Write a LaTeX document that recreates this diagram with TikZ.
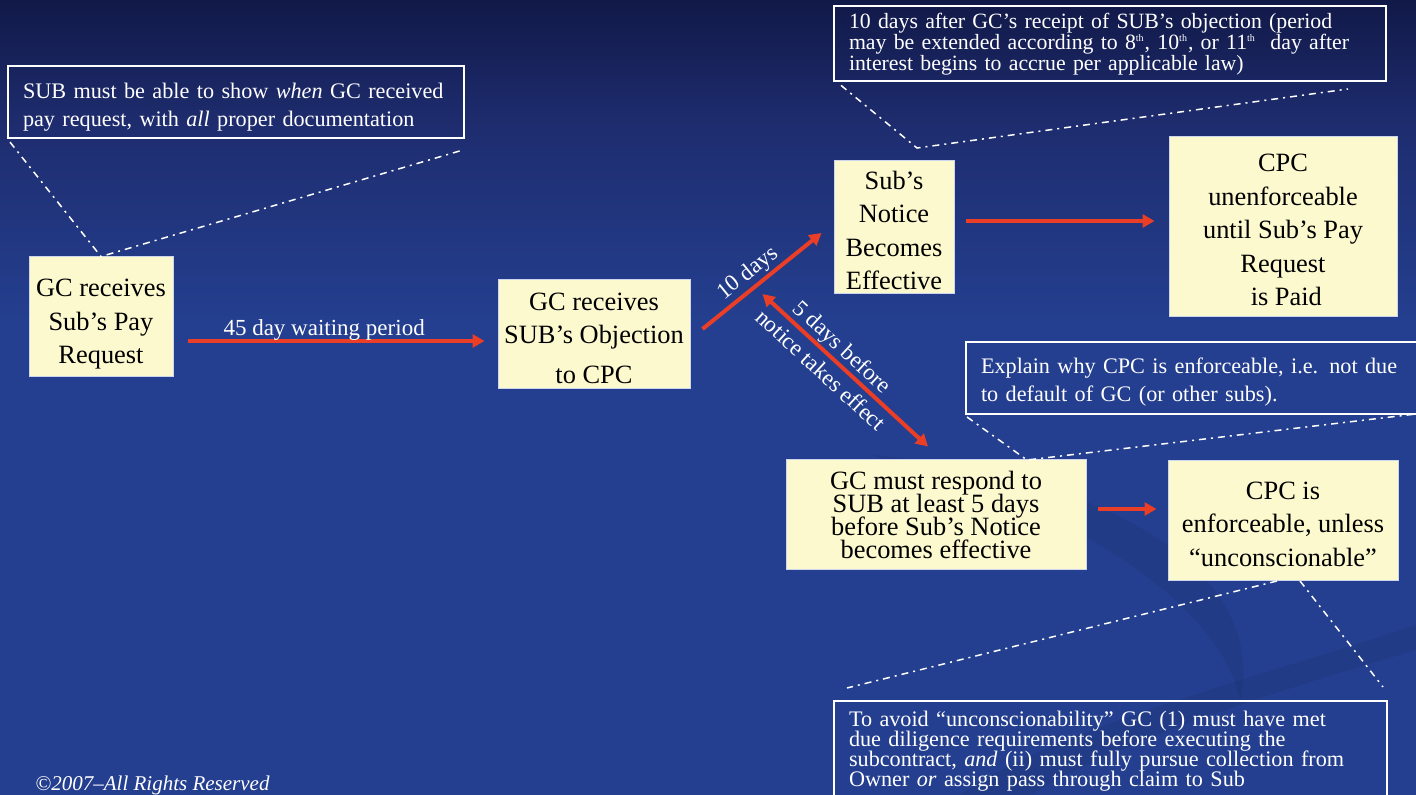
\documentclass[tikz,border=0pt]{standalone}
\usepackage{fontspec}
\setmainfont{Liberation Serif}
\usetikzlibrary{arrows.meta, calc}

\definecolor{bgtop}{RGB}{17,25,72}
\definecolor{bgquart}{RGB}{30,44,110}
\definecolor{bgmid}{RGB}{36,63,143}
\definecolor{boxfill}{RGB}{252,249,206}
\definecolor{boxedge}{RGB}{205,213,236}
\definecolor{arrowred}{RGB}{234,62,38}

\newcommand{\boxfont}{\fontsize{13.2}{16.75}\selectfont}
\newcommand{\tightbox}{\fontsize{13.2}{11.5}\selectfont\lineskiplimit=-10pt}
\newcommand{\notefont}{\fontsize{11.1}{14}\selectfont}
\newcommand{\tightfont}{\fontsize{10.9}{10.5}\selectfont\lineskiplimit=-10pt}
\newcommand{\lowfont}{\fontsize{11.1}{10}\selectfont\lineskiplimit=-10pt}
\newcommand{\lblfont}{\fontsize{11.5}{16}\selectfont}
\newcommand{\padtop}[1]{\rule{0pt}{#1}}   % 箱の中の文字を少し下げる
\newcommand{\ord}{\textsuperscript{\tiny th}}

\begin{document}
\begin{tikzpicture}[
  x=0.5pt, y=-0.5pt,      % 1単位 = 元画像の1px
  >={Triangle[length=6pt, width=6.5pt]},
  block/.style={draw=boxedge, line width=0.5pt, fill=boxfill, align=center, inner sep=0pt, font=\boxfont},
  note/.style={draw=white, line width=1pt, anchor=north west, align=left, text=white, inner xsep=7.5pt, font=\notefont},
  flow/.style={draw=arrowred, line width=2pt},
  callout/.style={white, line width=0.75pt, dash pattern=on 3.5pt off 2.5pt on 1pt off 2.5pt},
  lbl/.style={text=white, font=\lblfont, inner sep=1pt},
  swirl/.style={fill=black, opacity=0.06}
  ]

  % --- 背景 ---
  \clip (0,0) rectangle (1416,795);
  \shade [top color=bgtop, bottom color=bgquart] (0,0) rectangle (1416,121);
  \shade [top color=bgquart, bottom color=bgmid] (0,120) rectangle (1416,321);
  \fill [bgmid] (0,320) rectangle (1416,795);
  \fill [swirl] (870,455) .. controls (1080,470) and (1270,560) .. (1240,700) .. controls (1220,600) and (1060,500) .. cycle;
  \fill [swirl] (1416,625) .. controls (1250,680) and (1050,730) .. (960,795) -- (1030,795) .. controls (1120,740) and (1280,690) .. (1416,650) -- cycle;

  % --- 流れの箱 ---
  \node [block, minimum width=72pt, minimum height=60pt] (pay) at (101,317) {\padtop{16pt}GC receives\\Sub’s Pay\\Request};
  \node [block, minimum width=96pt, minimum height=54.5pt] (obj) at (594,334.5) {\padtop{12.5pt}GC receives\\SUB’s Objection\\[3pt]to CPC};
  \node [block, minimum width=60pt, minimum height=66.5pt] (notice) at (894,227) {\padtop{12.5pt}Sub’s\\Notice\\Becomes\\Effective};
  \node [block, minimum width=114pt, minimum height=90pt] (unenf) at (1283,227) {\padtop{12pt}CPC\\unenforceable\\until Sub’s Pay\\Request\\\ is Paid};
  \node [block, minimum width=150pt, minimum height=54.5pt, font=\tightbox] (respond) at (936,514.5) {GC must respond to\\SUB at least 5 days\\before Sub’s Notice\\becomes effective};
  \node [block, minimum width=115pt, minimum height=60pt] (enf) at (1283,520.5) {\padtop{12.5pt}CPC is\\enforceable, unless\\“unconscionable”};

  % --- 注記の枠 ---
  \node [note, text width=213pt, minimum height=36pt] (noteA) at (7,65) {\padtop{13pt}SUB must be able to show \emph{when} GC received\\pay request, with \emph{all} proper documentation};
  \node [note, text width=261pt, minimum height=37.5pt, font=\tightfont] (noteB) at (833,5) {10 days after GC’s receipt of SUB’s objection (period\\may be extended according to 8\ord, 10\ord, or 11\ord\ \ day after\\interest begins to accrue per applicable law)};
  \node [note, text width=222.5pt, minimum height=36pt] (noteC) at (965,341) {\padtop{12pt}Explain why CPC is enforceable, i.e. not due\\to default of GC (or other subs).};
  \node [note, text width=261.5pt, inner ysep=5pt, font=\lowfont] (noteD) at (833,700) {To avoid “unconscionability” GC (1) must have met\\due diligence requirements before executing the\\subcontract, \emph{and} (ii) must fully pursue collection from\\Owner \emph{or} assign pass through claim to Sub};

  % --- 引き出し線 ---
  \coordinate (aEnd) at (463,150);
  \coordinate (bTip) at (917,148);
  \coordinate (bEnd) at (1348,89);
  \coordinate (cTip) at (1027,460);
  \coordinate (cEnd) at (1416,414);
  \coordinate (dLeft) at (847,688);
  \coordinate (dRight) at (1383,687);
  \draw [callout] ($(noteA.south west)+(3,3)$) -- (pay.north) -- (aEnd);
  \draw [callout] ($(noteB.south west)+(8,3)$) -- (bTip) -- (bEnd);
  \draw [callout] ($(noteC.south west)+(2,2)$) -- (cTip) -- (cEnd);
  \draw [callout] ($(enf.south)+(-6,0)$) -- (dLeft);
  \draw [callout] ($(enf.south)+(17,0)$) -- (dRight);

  % --- 矢印 ---
  \draw [flow, ->] ($(pay.east)+(14,24)$) -- ($(obj.west)+(-13,6.5)$)
    node [lbl, pos=0.46, anchor=base, yshift=2.5pt] (wait) {45 day waiting period};
  \draw [flow, ->] ($(obj.east)+(12,-5.5)$) -- ($(notice.west)+(-12,6)$)
    node [lbl, pos=0.46, above, sloped] (ten) {10 days};
  \draw [flow, <->] ($(notice.south west)+(-71,0)$) -- ($(respond.north)+(-8,-13)$)
    node [lbl, pos=0.42, sloped, align=center] (five) {5 days before\\notice takes effect};
  \draw [flow, ->] ($(notice.east)+(11,-6)$) -- ($(unenf.west)+(-14,-6)$);
  \draw [flow, ->] ($(respond.east)+(11,-5.5)$) -- ($(enf.west)+(-11,-11.5)$);

  % --- 著作権表示 ---
  \node [text=white, font=\fontsize{10.5}{13}\selectfont\itshape, anchor=base west, inner sep=0pt] (copy) at (35,790) {©2007–All Rights Reserved};

\end{tikzpicture}
\end{document}
